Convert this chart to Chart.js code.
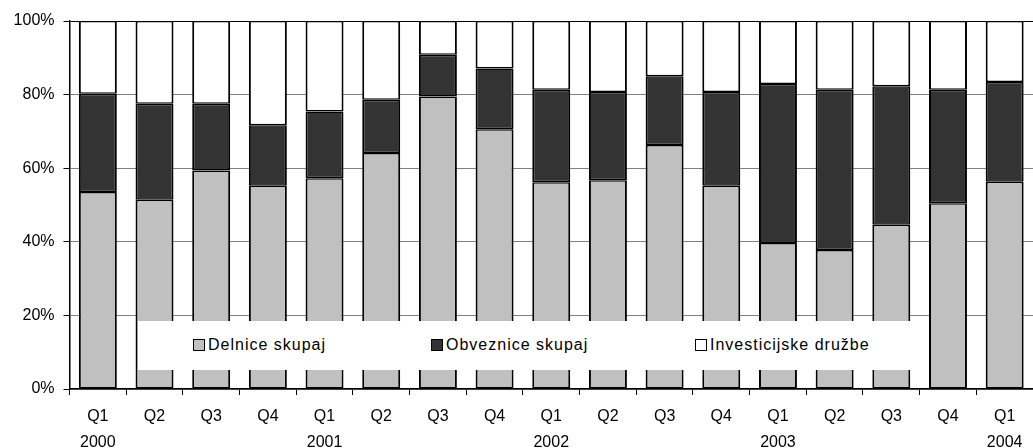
<!DOCTYPE html>
<html>
<head>
<meta charset="utf-8">
<script src="https://cdn.jsdelivr.net/npm/chart.js@4/dist/chart.umd.min.js"></script>
<style>
  html, body { margin: 0; padding: 0; background: #fff; }
  #wrap { position: relative; width: 1033px; height: 448px; overflow: hidden; }
  #legend {
    position: absolute; left: 138px; top: 321px; width: 778px; height: 49px;
    background: #fff; font-family: "Liberation Sans", Arial, sans-serif;
    font-size: 16px; letter-spacing: 1px; color: #000;
  }
  #legend .item { position: absolute; top: 15px; display: flex; align-items: center; white-space: nowrap; }
  #legend .box { width: 10px; height: 10px; border: 1.5px solid #000; margin-right: 3px; }
</style>
</head>
<body>
<div id="wrap">
  <canvas id="chart" width="1033" height="448"></canvas>
  <div id="legend"></div>
</div>
<script>
// quarters and year labels
const quarters = ["Q1", "Q2", "Q3", "Q4", "Q1", "Q2", "Q3", "Q4", "Q1", "Q2", "Q3", "Q4", "Q1", "Q2", "Q3", "Q4", "Q1"];
const years = ["2000", "", "", "", "2001", "", "", "", "2002", "", "", "", "2003", "", "", "", "2004"];

// shares in %
const delnice = [53.5, 51.4, 59.4, 55.2, 57.3, 64.1, 79.5, 70.6, 56.2, 56.7, 66.3, 55.2, 39.7, 37.8, 44.6, 50.5, 56.3];
const obveznice = [26.7, 26.1, 18.1, 16.5, 18.1, 14.5, 11.3, 16.5, 25.1, 24.0, 18.7, 25.5, 43.2, 43.5, 37.7, 30.8, 27.1];
const investicijske = [19.8, 22.5, 22.5, 28.3, 24.6, 21.4, 9.2, 12.9, 18.7, 19.3, 15.0, 19.3, 17.1, 18.7, 17.7, 18.7, 16.6];

const yTicks = [0, 20, 40, 60, 80, 100];

const labels = quarters.map((q, i) => years[i] ? [q, years[i]] : q);

const font = { family: "'Liberation Sans', Arial, sans-serif", size: 16 };
const barBorder = { top: 1.5, bottom: 1.5, left: 2, right: 2 };

const series = [
  { label: "Delnice skupaj", data: delnice, color: "#c0c0c0" },
  { label: "Obveznice skupaj", data: obveznice, color: "#333333" },
  { label: "Investicijske družbe", data: investicijske, color: "#ffffff" }
];

new Chart(document.getElementById("chart"), {
  type: "bar",
  data: {
    labels: labels,
    datasets: series.map(s => ({
      label: s.label,
      data: s.data,
      backgroundColor: s.color,
      borderColor: "#000",
      borderWidth: barBorder,
      borderSkipped: false,
      inflateAmount: 0,
      barPercentage: 0.67,
      categoryPercentage: 1
    }))
  },
  options: {
    responsive: false,
    animation: false,
    layout: { padding: { top: 21, right: -5, left: 0, bottom: 0 } },
    plugins: { legend: { display: false }, tooltip: { enabled: false } },
    scales: {
      x: {
        stacked: true,
        grid: { drawOnChartArea: false, offset: true, tickLength: 6, tickColor: "#000" },
        border: { color: "#000", width: 1.5 },
        ticks: { color: "#000", font: { ...font, lineHeight: 1.6 }, padding: 9, maxRotation: 0, autoSkip: false },
        afterFit: s => { s.height = 59; }
      },
      y: {
        stacked: true,
        min: 0,
        max: 100,
        afterBuildTicks: s => { s.ticks = yTicks.map(v => ({ value: v })); },
        grid: {
          color: c => c.tick && c.tick.value === 100 ? "#000" : "#808080",
          tickLength: 6,
          tickColor: "#000"
        },
        border: { color: "#000", width: 1.5 },
        ticks: { color: "#000", font: font, padding: 9, callback: v => v + "%" },
        afterFit: s => { s.width = 69.5; }
      }
    }
  }
});

// legend overlay
const legend = document.getElementById("legend");
const legendX = [55, 293, 557];
series.forEach((s, i) => {
  const item = document.createElement("div");
  item.className = "item";
  item.style.left = legendX[i] + "px";
  item.innerHTML = '<span class="box" style="background:' + s.color + '"></span>' + s.label;
  legend.appendChild(item);
});
</script>
</body>
</html>
